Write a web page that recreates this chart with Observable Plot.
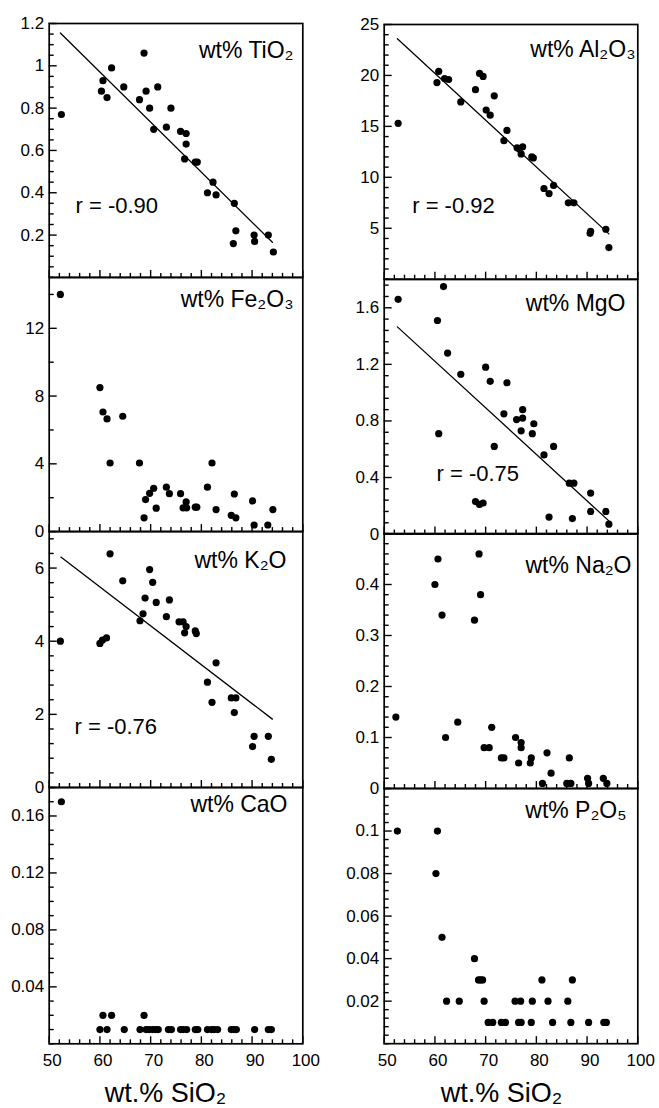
<!DOCTYPE html>
<html><head><meta charset="utf-8">
<script src="https://cdn.jsdelivr.net/npm/d3@7"></script>
<script src="https://cdn.jsdelivr.net/npm/@observablehq/plot@0.6"></script>
<style>
body{margin:0;background:#fff}
#chart{position:relative;width:659px;height:1108px;overflow:hidden;background:#fff}
#chart svg{position:absolute}
</style>
</head><body><div id="chart"></div>
<script>
// ---------- data ----------
const TiO2_x = [52.4, 68.7, 62.3, 60.6, 60.3, 61.4, 64.7, 67.8, 69.1, 71.4, 69.8, 74.0, 70.6, 73.1, 75.9, 77.0, 77.0, 76.7, 78.8, 79.2, 81.2, 82.3, 82.9, 86.5, 86.8, 86.3, 90.4, 90.5, 93.2, 94.2];
const TiO2_y = [0.77, 1.06, 0.99, 0.93, 0.88, 0.85, 0.90, 0.84, 0.88, 0.90, 0.80, 0.80, 0.70, 0.71, 0.69, 0.68, 0.63, 0.56, 0.545, 0.545, 0.40, 0.45, 0.39, 0.35, 0.22, 0.16, 0.20, 0.17, 0.20, 0.12];
const TiO2_fitX = [52.2, 94.0];
const TiO2_fitY = [1.155, 0.166];

const Al2O3_x = [52.75, 60.75, 60.4, 61.9, 62.7, 65.1, 68.0, 68.8, 69.5, 70.1, 70.9, 71.7, 74.2, 73.6, 76.2, 77.0, 77.3, 76.6, 79.4, 79.1, 81.5, 82.5, 83.4, 86.3, 87.4, 90.7, 90.6, 93.7, 94.3];
const Al2O3_y = [15.3, 20.4, 19.3, 19.7, 19.6, 17.4, 18.6, 20.2, 19.9, 16.6, 16.1, 18.0, 14.6, 13.6, 12.9, 12.3, 13.0, 12.8, 11.9, 12.0, 8.9, 8.4, 9.2, 7.5, 7.5, 4.7, 4.5, 4.9, 3.1];
const Al2O3_fitX = [52.6, 94.3];
const Al2O3_fitY = [23.6, 4.45];

const Fe2O3_x = [52.2, 60.0, 60.6, 61.4, 64.5, 62.0, 67.8, 68.7, 69.0, 69.8, 70.6, 71.1, 73.1, 73.7, 75.9, 77.0, 76.4, 77.1, 78.8, 79.1, 81.2, 82.1, 82.9, 85.9, 86.8, 86.5, 90.1, 90.4, 93.1, 94.1];
const Fe2O3_y = [14.0, 8.5, 7.06, 6.65, 6.81, 4.05, 4.05, 0.81, 1.89, 2.26, 2.56, 1.38, 2.62, 2.24, 2.24, 1.75, 1.40, 1.40, 1.44, 1.44, 2.62, 4.05, 1.30, 0.96, 0.81, 2.22, 1.81, 0.39, 0.39, 1.30];

const MgO_x = [52.75, 61.7, 60.5, 60.75, 62.5, 65.1, 70.0, 70.9, 74.2, 71.7, 73.6, 76.1, 77.3, 77.3, 77.0, 79.5, 79.2, 81.5, 83.4, 68.0, 68.8, 69.5, 82.5, 86.5, 87.4, 87.1, 90.7, 90.7, 93.7, 94.3];
const MgO_y = [1.66, 1.75, 1.51, 0.71, 1.28, 1.13, 1.18, 1.08, 1.07, 0.62, 0.85, 0.81, 0.88, 0.82, 0.73, 0.78, 0.71, 0.56, 0.62, 0.23, 0.21, 0.22, 0.12, 0.36, 0.36, 0.11, 0.29, 0.16, 0.16, 0.07];
const MgO_fitX = [52.6, 94.4];
const MgO_fitY = [1.465, 0.09];

const K2O_x = [52.2, 60.0, 60.5, 61.3, 62.0, 64.5, 67.9, 68.5, 68.9, 69.8, 70.4, 71.1, 73.7, 73.1, 75.6, 76.4, 77.0, 76.7, 78.8, 79.0, 81.2, 82.9, 82.1, 85.9, 86.8, 86.5, 90.4, 90.1, 93.2, 93.8];
const K2O_y = [4.0, 3.94, 4.03, 4.09, 6.39, 5.65, 4.56, 4.75, 5.18, 5.96, 5.61, 5.06, 5.13, 4.67, 4.53, 4.53, 4.40, 4.23, 4.28, 4.21, 2.88, 3.41, 2.33, 2.45, 2.45, 2.05, 1.40, 1.12, 1.40, 0.77];
const K2O_fitX = [52.3, 94.0];
const K2O_fitY = [6.30, 1.87];

const Na2O_x = [52.3, 60.0, 60.6, 61.4, 62.1, 64.5, 67.8, 68.7, 69.0, 69.7, 70.7, 71.2, 73.1, 73.6, 75.9, 77.0, 77.0, 76.5, 79.0, 78.8, 81.2, 82.1, 82.9, 86.0, 86.8, 86.5, 90.1, 90.3, 93.2, 93.9];
const Na2O_y = [0.14, 0.40, 0.45, 0.34, 0.10, 0.13, 0.33, 0.46, 0.38, 0.08, 0.08, 0.12, 0.06, 0.06, 0.10, 0.09, 0.08, 0.05, 0.06, 0.05, 0.01, 0.07, 0.03, 0.01, 0.01, 0.06, 0.02, 0.01, 0.02, 0.01];

const CaO_x = [52.4, 60.6, 62.3, 68.7, 60.0, 61.4, 64.8, 67.9, 69.1, 69.7, 70.4, 71.0, 71.5, 73.5, 74.1, 75.9, 76.4, 77.1, 78.8, 79.3, 81.2, 82.0, 82.5, 83.2, 85.9, 86.4, 86.9, 90.5, 93.2, 93.8];
const CaO_y = [0.17, 0.02, 0.02, 0.02, 0.01, 0.01, 0.01, 0.01, 0.01, 0.01, 0.01, 0.01, 0.01, 0.01, 0.01, 0.01, 0.01, 0.01, 0.01, 0.01, 0.01, 0.01, 0.01, 0.01, 0.01, 0.01, 0.01, 0.01, 0.01, 0.01];

const P2O5_x = [52.6, 60.5, 60.2, 61.4, 67.8, 68.6, 69.0, 69.4, 81.1, 87.1, 62.3, 64.8, 69.7, 75.8, 76.9, 79.2, 82.3, 86.2, 70.5, 71.4, 73.1, 73.9, 76.5, 77.0, 79.0, 83.2, 86.8, 90.3, 93.3, 93.8];
const P2O5_y = [0.10, 0.10, 0.08, 0.05, 0.04, 0.03, 0.03, 0.03, 0.03, 0.03, 0.02, 0.02, 0.02, 0.02, 0.02, 0.02, 0.02, 0.02, 0.01, 0.01, 0.01, 0.01, 0.01, 0.01, 0.01, 0.01, 0.01, 0.01, 0.01, 0.01];

const titles = ["wt% TiO₂", "wt% Al₂O₃", "wt% Fe₂O₃", "wt% MgO", "wt% K₂O", "wt% Na₂O", "wt% CaO", "wt% P₂O₅"];
const rLabels = ["r = -0.90", "r = -0.92", null, "r = -0.75", "r = -0.76", null, null, null];
const xTickLabels = [50, 60, 70, 80, 90, 100];
const xAxisTitle = "wt.% SiO₂";

const yDomains = [[0, 1.2], [0, 25], [0, 15], [0, 1.8], [0, 7], [0, 0.5], [0, 0.18], [0, 0.12]];
const yMajor = [
  [0.2, 0.4, 0.6, 0.8, 1, 1.2],
  [5, 10, 15, 20, 25],
  [0, 4, 8, 12],
  [0, 0.4, 0.8, 1.2, 1.6],
  [0, 2, 4, 6],
  [0, 0.1, 0.2, 0.3, 0.4],
  [0.04, 0.08, 0.12, 0.16],
  [0.02, 0.04, 0.06, 0.08, 0.1]
];
const yMinorStep = [0.05, 1, 2, 0.08, 0.4, 0.02, 0.01, 0.004];

// ---------- layout ----------
const series = [
  {x: TiO2_x, y: TiO2_y, fx: TiO2_fitX, fy: TiO2_fitY},
  {x: Al2O3_x, y: Al2O3_y, fx: Al2O3_fitX, fy: Al2O3_fitY},
  {x: Fe2O3_x, y: Fe2O3_y},
  {x: MgO_x, y: MgO_y, fx: MgO_fitX, fy: MgO_fitY},
  {x: K2O_x, y: K2O_y, fx: K2O_fitX, fy: K2O_fitY},
  {x: Na2O_x, y: Na2O_y},
  {x: CaO_x, y: CaO_y},
  {x: P2O5_x, y: P2O5_y}
];
const colLeft = [0, 330], colWidth = [330, 329];
const mLeft = [48.7, 53.7], mRight = [27.7, 21.7];
const rowEdges = [[22.7, 276.6, 530.7, 786.7, 1043], [24, 278.7, 533.3, 788.3, 1043.5]];
// title: [dx from right edge, baseline from top, width]
const titlePos = [[-9.3, 35, 116], [-2.3, 32.7, 125], [-9.3, 29.7, 136], [-12.3, 31.7, 123], [-16.3, 36, 113], [-6.3, 39, 130], [-15.3, 25, 120], [-11.3, 30, 123]];
const rPos = [[26.3, 190], [28, 188.3], null, [52.3, 201.3], [25.3, 202], null, null, null];
const xlabelPos = [[-10.5, 58.5], [-9.5, 58]];

const font = "'Liberation Sans', Arial, Helvetica, sans-serif";
const fmt = d => String(+(+d).toFixed(4));
const xMajor = d3.range(50, 101, 10);
const xMinor = d3.range(50, 101, 2).filter(v => v % 10 !== 0);
const chart = document.getElementById("chart");

series.forEach((s, i) => {
  const col = i % 2, row = Math.floor(i / 2);
  const top = rowEdges[col][row], bottom = rowEdges[col][row + 1];
  const innerH = bottom - top;
  const innerW = colWidth[col] - mLeft[col] - mRight[col];
  const mt = 14, mb = row === 3 ? 70 : 14;
  const height = innerH + mt + mb;
  const [d0, d1] = yDomains[i];
  const step = yMinorStep[i];
  const minor = d3.range(0, Math.round((d1 - d0) / step) + 1).map(k => +(d0 + k * step).toFixed(6))
    .filter(v => v <= d1 + 1e-9 && !yMajor[i].some(m => Math.abs(m - v) < 1e-9));
  const pts = s.x.map((x, k) => ({x, y: s.y[k]}));
  const marks = [
    Plot.tickY(minor, {y: d => d, insetRight: innerW - 5, stroke: "black", strokeWidth: 1.4}),
    Plot.tickY(yMajor[i], {y: d => d, insetRight: innerW - 8, stroke: "black", strokeWidth: 1.4}),
    Plot.axisY(yMajor[i], {tickSize: 0, tickPadding: 5, tickFormat: fmt, label: null, fontSize: 17}),
    Plot.tickX(xMinor, {x: d => d, insetTop: innerH - 4, stroke: "black", strokeWidth: 1.4}),
    Plot.tickX(xMajor, {x: d => d, insetTop: innerH - 7, stroke: "black", strokeWidth: 1.4}),
    Plot.frame({stroke: "black", strokeWidth: 1.7}),
    Plot.dot(pts, {x: "x", y: "y", r: 3.6, fill: "black"}),
    Plot.text([titles[i]], {text: d => d, frameAnchor: "top-right", textAnchor: "end", lineAnchor: "bottom",
      dx: titlePos[i][0], dy: titlePos[i][1], fontSize: 23, fill: "black", ariaLabel: "ptitle"})
  ];
  if (s.fx) {
    const fit = s.fx.map((x, k) => ({x, y: s.fy[k]}));
    marks.push(Plot.line(fit, {x: "x", y: "y", stroke: "black", strokeWidth: 1.3}));
  }
  if (rLabels[i]) {
    marks.push(Plot.text([rLabels[i]], {text: d => d, frameAnchor: "top-left", textAnchor: "start", lineAnchor: "bottom",
      dx: rPos[i][0], dy: rPos[i][1], fontSize: 22, fill: "black"}));
  }
  if (row === 3) {
    marks.push(Plot.axisX(xTickLabels, {tickSize: 0, tickPadding: 10, dx: 3, tickFormat: d => String(d), label: null, fontSize: 17}));
    marks.push(Plot.text([xAxisTitle], {text: d => d, frameAnchor: "bottom", textAnchor: "middle", lineAnchor: "bottom",
      dx: xlabelPos[col][0], dy: xlabelPos[col][1], fontSize: 27, fill: "black", ariaLabel: "xtitle"}));
  } else {
    marks.push(Plot.axisX([], {label: null}));
  }
  const svg = Plot.plot({
    width: colWidth[col], height,
    marginTop: mt, marginBottom: mb, marginLeft: mLeft[col], marginRight: mRight[col],
    x: {domain: [50, 100]},
    y: {domain: yDomains[i]},
    style: {background: "transparent", overflow: "visible", fontFamily: font, color: "black"},
    marks
  });
  svg.style.left = colLeft[col] + "px";
  svg.style.top = (top - mt) + "px";
  chart.appendChild(svg);
  svg.querySelectorAll('g[aria-label="ptitle"] text').forEach(t => {
    t.setAttribute("textLength", titlePos[i][2]);
    t.setAttribute("lengthAdjust", "spacingAndGlyphs");
  });
  svg.querySelectorAll('g[aria-label="xtitle"] text').forEach(t => {
    t.setAttribute("textLength", 149);
    t.setAttribute("lengthAdjust", "spacingAndGlyphs");
  });
});
</script></body></html>
